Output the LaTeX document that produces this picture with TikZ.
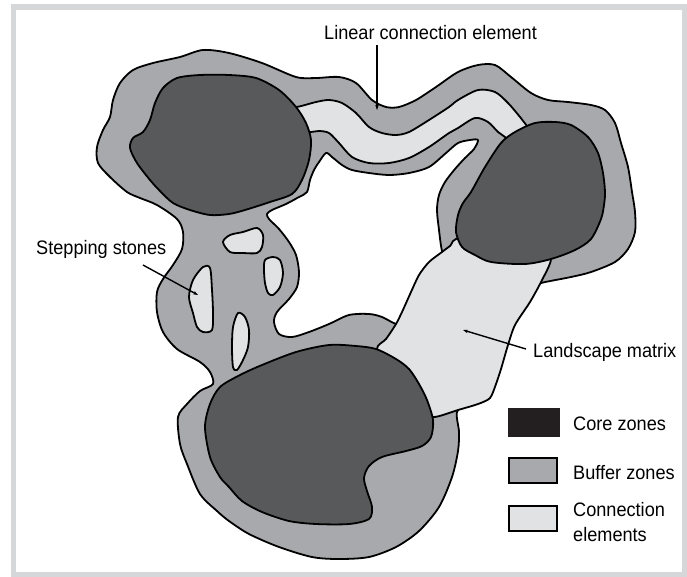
\documentclass[tikz,border=0pt]{standalone}
\usepackage{fontspec}
\setmainfont{Liberation Sans}[FakeStretch=0.93]
\usetikzlibrary{arrows.meta}

\definecolor{coregrey}{RGB}{88,89,91}
\definecolor{buffergrey}{RGB}{167,169,172}
\definecolor{conngrey}{RGB}{225,226,227}
\definecolor{framegrey}{RGB}{214,215,217}
\definecolor{coreblack}{RGB}{35,31,32}

\begin{document}
\begin{tikzpicture}[
  x=1pt, y=-1pt,
  every node/.style={font=\fontsize{19.5}{25}\selectfont},
  zone/.style={draw=black, line width=1.8pt, line join=round},
  core/.style={zone, fill=coregrey},
  buffer/.style={zone, fill=buffergrey},
  conn/.style={zone, fill=conngrey},
  hole/.style={zone, fill=white},
  key/.style={line width=1.8pt, minimum width=48pt, minimum height=25pt, inner sep=0pt},
  lbl/.style={anchor=base west, inner sep=0pt, align=left},
  pointer/.style={-{Stealth[length=5pt,width=3.5pt]}, line width=1.4pt},
]
  \useasboundingbox (0,0) rectangle (687,576);
  \draw[framegrey, line width=5.5pt] (13.5,7) rectangle (684.5,574.5);

  % buffer zones (one piece)
  \draw[buffer] plot[smooth cycle, tension=0.5] coordinates {
    (97,147) (103,130) (110,117) (113,100) (120,83) (133,70) (153,63) (180,57)
    (203,50) (229,53) (262,63) (296,77) (316,78) (339,77) (356,83) (372,100)
    (386,107) (399,107) (416,100) (436,87) (458,72) (478,65) (495,65) (511,77)
    (531,93) (548,100) (568,102) (591,105) (605,110) (615,123) (621,143) (628,167)
    (632,192) (635,212) (635,232) (628,249) (615,262) (591,272) (571,277) (541,283)
    (530,288) (505,320) (485,365) (468,398) (457,412) (459,432) (458,451) (452,477)
    (439,507) (419,531) (396,547) (369,557) (339,559) (312,557) (279,547) (249,534)
    (229,521) (217,511) (200,494) (187,464) (180,444) (178,417) (187,404) (200,391)
    (213,384) (210,372) (200,362) (177,349) (163,332) (157,312) (157,292) (163,279)
    (173,265) (182,249) (183,232) (177,219) (157,205) (140,198) (127,192) (110,177)
    (98,163)};

  % open ground inside the ring
  \draw[hole] plot[smooth cycle, tension=0.5] coordinates {
    (326,153) (332,157) (342,165) (352,170) (369,173) (389,175) (409,173) (429,167)
    (446,153) (458,143) (470,140) (478,140) (474,149) (465,158) (455,169) (445,182)
    (439,195) (437,210) (439,230) (442,251) (448,268) (432,305) (412,327) (396,324)
    (382,317) (369,314) (349,315) (329,324) (309,332) (292,337) (279,334) (274,322)
    (277,312) (289,299) (297,287) (299,272) (296,255) (289,242) (279,229) (269,219)
    (267,214) (272,210) (286,204) (299,197) (307,192) (310,180) (314,170) (319,162)};

  % linear connection element
  \draw[conn] plot[smooth cycle, tension=0.5] coordinates {
    (285,104) (296,107) (316,102) (329,100) (342,103) (356,113) (369,127) (382,133)
    (396,135) (409,132) (429,120) (449,107) (458,100) (478,90) (495,92) (508,103)
    (520,117) (530,130) (545,150) (512,145) (505,137) (498,132) (488,122) (475,118)
    (458,128) (449,133) (429,147) (409,158) (389,163) (369,163) (352,157) (339,143)
    (329,133) (319,131) (309,132) (290,130)};

  % landscape matrix
  \draw[conn] plot[smooth cycle, tension=0.45] coordinates {
    (462,238) (450,246) (442,252) (429,262) (419,275) (411,292) (402,312) (396,324)
    (386,339) (377,349) (390,375) (420,410) (434,417) (458,410) (478,404) (490,398)
    (496,384) (501,369) (508,345) (515,325) (530,302) (541,282) (551,259) (540,245)};

  % core zones
  \draw[core] plot[smooth cycle, tension=0.5] coordinates {
    (229,75) (256,78) (279,90) (296,107) (306,123) (311,140) (309,160) (302,180)
    (292,194) (270,202) (245,210) (229,214) (210,215) (190,210) (173,203) (160,191)
    (150,180) (137,163) (130,148) (133,138) (143,132) (150,120) (155,103) (163,88)
    (177,78) (200,75)};
  \draw[core] plot[smooth cycle, tension=0.5] coordinates {
    (471,192) (485,167) (501,143) (515,132) (535,123) (555,122) (571,125) (588,137)
    (598,153) (603,173) (605,192) (604,205) (601,219) (591,239) (575,250) (551,259)
    (525,264) (491,262) (475,255) (462,247) (456,232) (458,215) (463,203)};
  \draw[core] plot[smooth cycle, tension=0.5] coordinates {
    (220,387) (240,375) (262,365) (296,352) (329,345) (356,346) (376,349) (396,359)
    (409,369) (419,384) (427,400) (433,420) (431,437) (422,446) (406,451) (382,457)
    (369,466) (364,478) (367,491) (372,507) (369,519) (349,524) (316,524) (289,521)
    (262,512) (242,501) (229,487) (220,477) (210,457) (205,427) (210,404)};

  % stepping stones
  \draw[conn] plot[smooth cycle, tension=0.5] coordinates {
    (203,267) (210,268) (212,290) (213,313) (212,330) (203,332) (197,327) (193,313)
    (189,297) (193,280)};
  \draw[conn] plot[smooth cycle, tension=0.5] coordinates {
    (223,242) (230,235) (243,232) (257,228) (263,235) (262,247) (257,253) (243,253)
    (230,252)};
  \draw[conn] plot[smooth cycle, tension=0.5] coordinates {
    (265,260) (273,257) (280,260) (283,273) (280,287) (273,295) (268,293) (265,283)
    (264,270)};
  \draw[conn] plot[smooth cycle, tension=0.5] coordinates {
    (238,313) (245,317) (249,330) (248,347) (243,360) (237,370) (233,367) (232,347)
    (233,327)};

  % labels
  \node[lbl] (linlbl) at (324,39) {Linear connection element};
  \node[lbl] (steplbl) at (36,254) {Stepping stones};
  \node[lbl] (matlbl) at (533,357) {Landscape matrix};
  \coordinate (linfrom) at (377,45);
  \coordinate (linto) at (377,110);
  \coordinate (stepfrom) at (143,265);
  \coordinate (stepto) at (198,295);
  \coordinate (matfrom) at (526,349);
  \coordinate (matto) at (463,330);
  \draw[pointer] (linfrom) -- (linto);
  \draw[pointer] (stepfrom) -- (stepto);
  \draw[pointer] (matfrom) -- (matto);

  % legend
  \node[key, fill=coreblack, minimum width=52pt, minimum height=29pt] (kcore) at (534,422.5) {};
  \node[key, draw, fill=buffergrey] (kbuf) at (533,470.5) {};
  \node[key, draw, fill=conngrey] (kconn) at (533,518.5) {};
  \node[lbl] (tcore) at (573,430) {Core zones};
  \node[lbl] (tbuf) at (573,479) {Buffer zones};
  \node[lbl] (tconn) at (573,541) {Connection\\elements};
\end{tikzpicture}
\end{document}
